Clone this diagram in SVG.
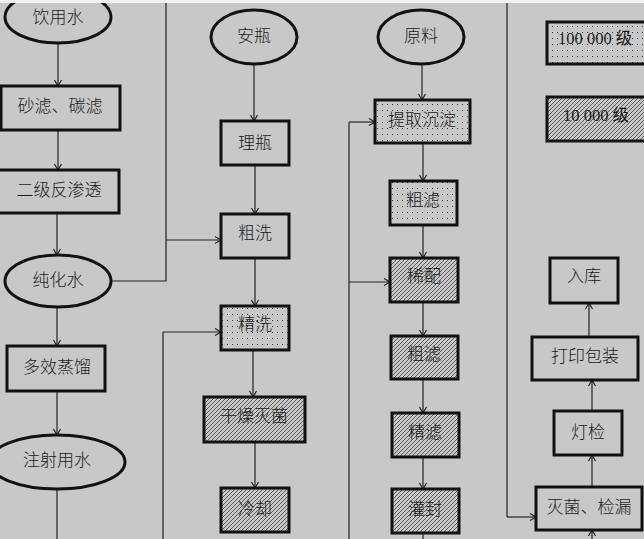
<svg xmlns="http://www.w3.org/2000/svg" width="644" height="539" viewBox="0 0 644 539">
<defs>
<pattern id="dots" patternUnits="userSpaceOnUse" width="5" height="6">
<rect width="5" height="6" fill="#c8c8c8"/>
<rect x="2" y="2" width="1" height="1" fill="#333"/>
</pattern>
<pattern id="hatch" patternUnits="userSpaceOnUse" width="4" height="4">
<rect width="4" height="4" fill="#c8c8c8"/>
<path d="M-1,1 L1,-1 M0,4 L4,0 M3,5 L5,3" stroke="#2a2a2a" stroke-width="0.7"/>
</pattern>
<marker id="arr" markerUnits="userSpaceOnUse" markerWidth="10" markerHeight="10" refX="8" refY="5" orient="auto">
<path d="M2,1.5 L8,5 L2,8.5" fill="none" stroke="#222" stroke-width="1.2"/>
</marker>
</defs>
<style>
.n{fill:#c8c8c8;stroke:#111;stroke-width:3}
.d{fill:url(#dots);stroke:#111;stroke-width:3}
.h{fill:url(#hatch);stroke:#111;stroke-width:3}
.t{font-family:"Noto Sans CJK SC","Noto Sans CJK JP",sans-serif;font-size:17px;font-weight:300;fill:#1a1a1a;text-anchor:middle;dominant-baseline:central}
.lg{font-family:"Liberation Serif","Noto Sans CJK SC",serif;font-size:16.5px;fill:#1a1a1a;dominant-baseline:central}
.c path{fill:none;stroke:#222;stroke-width:1.2}
.c path.a{marker-end:url(#arr)}
</style>
<rect width="644" height="539" fill="#c8c8c8"/>

<g class="c" id="connectors">
<path class="a" d="M58,43 V86"/>
<path class="a" d="M58,130 V170"/>
<path class="a" d="M57,213 V255"/>
<path d="M111,281 H166 V0"/>
<path class="a" d="M166,240 H221"/>
<path class="a" d="M57,307 V346"/>
<path class="a" d="M57,391 V435"/>
<path d="M57,490 V539"/>
<path class="a" d="M254,64 V121"/>
<path class="a" d="M255,165 V214"/>
<path class="a" d="M255,258 V306"/>
<path class="a" d="M253,350 V397"/>
<path class="a" d="M255,442 V488"/>
<path d="M163,539 V332"/>
<path class="a" d="M163,332 H221"/>
<path class="a" d="M422,64 V100"/>
<path class="a" d="M423,143 V181"/>
<path class="a" d="M423,225 V258"/>
<path class="a" d="M423,302 V336"/>
<path class="a" d="M423,379 V413"/>
<path class="a" d="M423,457 V489"/>
<path d="M423,533 V539"/>
<path d="M349,539 V122"/>
<path class="a" d="M349,122 H375"/>
<path class="a" d="M349,282 H390"/>
<path d="M507,0 V517"/>
<path class="a" d="M507,517 H536"/>
<path class="a" d="M592,539 V530"/>
<path class="a" d="M592,487 V455"/>
<path class="a" d="M592,411 V380"/>
<path class="a" d="M589,337 V303"/>
</g>

<g id="n-yinyongshui"><ellipse class="n" cx="58" cy="17" rx="53" ry="26"/><text class="t" x="58" y="15">饮用水</text></g>
<g id="n-shalv"><rect class="n" x="1" y="86" width="119" height="44"/><text class="t" x="60" y="104">砂滤、碳滤</text></g>
<g id="n-fanshentou"><rect class="n" x="-3" y="170" width="122" height="43"/><text class="t" x="59" y="188">二级反渗透</text></g>
<g id="n-chunhuashui"><ellipse class="n" cx="58" cy="281" rx="53" ry="26"/><text class="t" x="58" y="278">纯化水</text></g>
<g id="n-zhengliu"><rect class="n" x="7" y="346" width="98" height="45"/><text class="t" x="57" y="365">多效蒸馏</text></g>
<g id="n-zhusheshui"><ellipse class="n" cx="57" cy="462" rx="68" ry="27"/><text class="t" x="57" y="458">注射用水</text></g>

<g id="n-anping"><ellipse class="n" cx="254" cy="37" rx="43" ry="27"/><text class="t" x="254" y="34">安瓶</text></g>
<g id="n-liping"><rect class="n" x="221" y="121" width="68" height="44"/><text class="t" x="255" y="141">理瓶</text></g>
<g id="n-cuxi"><rect class="n" x="221" y="214" width="68" height="44"/><text class="t" x="255" y="231">粗洗</text></g>
<g id="n-jingxi"><rect class="d" x="221" y="306" width="68" height="44"/><text class="t" x="255" y="322">精洗</text></g>
<g id="n-ganzao"><rect class="h" x="204" y="397" width="101" height="45"/><text class="t" x="254" y="414">干燥灭菌</text></g>
<g id="n-lengque"><rect class="h" x="221" y="488" width="68" height="44"/><text class="t" x="255" y="507">冷却</text></g>

<g id="n-yuanliao"><ellipse class="n" cx="421" cy="37" rx="43" ry="27"/><text class="t" x="421" y="34">原料</text></g>
<g id="n-tiqu"><rect class="d" x="375" y="100" width="95" height="43"/><text class="t" x="422" y="118">提取沉淀</text></g>
<g id="n-culv1"><rect class="d" x="390" y="181" width="67" height="44"/><text class="t" x="423" y="198">粗滤</text></g>
<g id="n-xipei"><rect class="h" x="390" y="258" width="68" height="44"/><text class="t" x="424" y="274">稀配</text></g>
<g id="n-culv2"><rect class="h" x="391" y="336" width="67" height="43"/><text class="t" x="424" y="352">粗滤</text></g>
<g id="n-jinglv"><rect class="h" x="392" y="413" width="67" height="44"/><text class="t" x="425" y="430">精滤</text></g>
<g id="n-guanfeng"><rect class="h" x="392" y="489" width="67" height="44"/><text class="t" x="425" y="507">灌封</text></g>

<g id="legend-100000"><rect class="d" x="547" y="22" width="110" height="42"/><text class="lg" x="558" y="38">100 000 级</text></g>
<g id="legend-10000"><rect class="h" x="547" y="97" width="110" height="44"/><text class="lg" x="563" y="115">10 000 级</text></g>

<g id="n-ruku"><rect class="n" x="550" y="258" width="68" height="45"/><text class="t" x="584" y="274">入库</text></g>
<g id="n-dayin"><rect class="n" x="532" y="337" width="106" height="43"/><text class="t" x="585" y="354">打印包装</text></g>
<g id="n-dengjian"><rect class="n" x="554" y="411" width="68" height="44"/><text class="t" x="588" y="430">灯检</text></g>
<g id="n-mianjun"><rect class="n" x="536" y="487" width="106" height="43"/><text class="t" x="589" y="505">灭菌、检漏</text></g>

<rect x="0" y="0" width="644" height="3" fill="#f2f2f2"/>
</svg>
